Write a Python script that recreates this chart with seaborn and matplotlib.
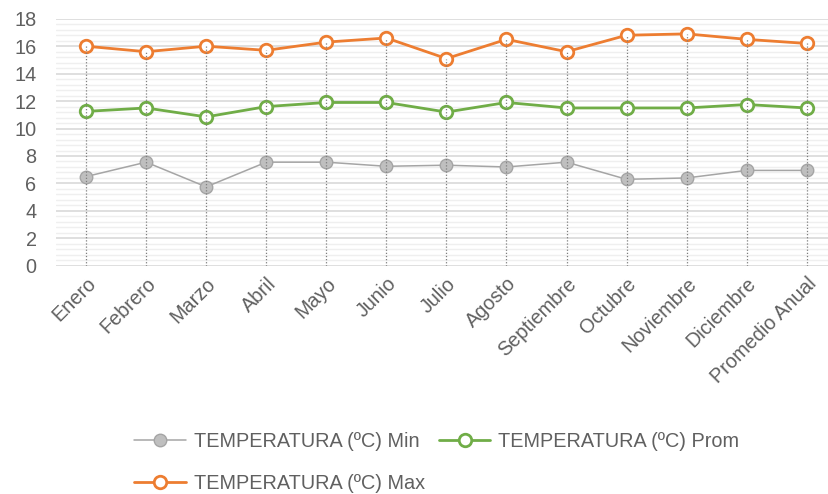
import matplotlib
matplotlib.use("Agg")
import matplotlib.pyplot as plt
import seaborn as sns
import pandas as pd
import numpy as np
from matplotlib.ticker import MultipleLocator

meses = ["Enero", "Febrero", "Marzo", "Abril", "Mayo", "Junio", "Julio", "Agosto",
         "Septiembre", "Octubre", "Noviembre", "Diciembre", "Promedio Anual"]
t_min = [6.5, 7.55, 5.75, 7.55, 7.55, 7.25, 7.33, 7.2, 7.55, 6.3, 6.4, 6.95, 6.95]
t_prom = [11.25, 11.5, 10.85, 11.6, 11.9, 11.9, 11.2, 11.9, 11.5, 11.5, 11.5, 11.75, 11.5]
t_max = [16.0, 15.6, 16.0, 15.7, 16.3, 16.6, 15.1, 16.5, 15.6, 16.8, 16.9, 16.5, 16.2]

sns.set_theme(style="white")
plt.rcParams['font.family'] = ['Liberation Sans', 'DejaVu Sans']

df = pd.DataFrame({"mes": meses, "x": np.arange(len(meses)),
                   "Min": t_min, "Prom": t_prom, "Max": t_max})

fig = plt.figure(figsize=(8.29, 4.94), dpi=100)
ax = fig.add_axes([0.0676, 0.462, 0.9324, 0.5])

text_color = "#606060"
fs = 14.3

ax.yaxis.set_major_locator(MultipleLocator(2))
ax.yaxis.set_minor_locator(MultipleLocator(0.4))
ax.grid(which="major", axis="y", color="#d9d9d9", linewidth=1.2, zorder=0)
ax.grid(which="minor", axis="y", color="#efefef", linewidth=1.0, zorder=0)
ax.set_axisbelow(True)

sns.lineplot(data=df, x="x", y="Min", ax=ax, color="#a5a5a5", linewidth=1.1,
             marker="o", markersize=9, markerfacecolor="#bfbfbf", markeredgecolor="#a5a5a5",
             markeredgewidth=1, label="TEMPERATURA (ºC) Min", zorder=3)
sns.lineplot(data=df, x="x", y="Prom", ax=ax, color="#70ad47", linewidth=2.0,
             marker="o", markersize=9, markerfacecolor="white", markeredgecolor="#70ad47",
             markeredgewidth=2.0, label="TEMPERATURA (ºC) Prom", zorder=3)
sns.lineplot(data=df, x="x", y="Max", ax=ax, color="#ed7d31", linewidth=2.0,
             marker="o", markersize=9, markerfacecolor="white", markeredgecolor="#ed7d31",
             markeredgewidth=2.0, label="TEMPERATURA (ºC) Max", zorder=3)

# drop lines from highest series down to the axis
ax.vlines(df["x"], 0, df["Max"], colors="#7f7f7f", linestyles=(0, (1, 1.5)), linewidth=0.9, zorder=4)

ax.set_xlim(-0.5, 12.37)
ax.set_ylim(0, 18)
ax.set_xticks(df["x"])
ax.set_xticklabels(meses, rotation=45, ha="right", rotation_mode="anchor",
                   fontsize=fs, color=text_color)
ax.tick_params(axis="y", labelsize=fs, labelcolor=text_color, length=0, pad=14)
ax.tick_params(axis="x", length=0, pad=6)
ax.set_xlabel("")
ax.set_ylabel("")
for s in ax.spines.values():
    s.set_visible(False)

handles, labels = ax.get_legend_handles_labels()
order = [0, 2, 1]
leg = ax.legend([handles[i] for i in order], [labels[i] for i in order],
                loc="upper left", bbox_to_anchor=(0.078, -0.60), ncol=2, frameon=False,
                fontsize=fs, handlelength=2.6, columnspacing=0.7, labelspacing=1.15,
                handletextpad=0.4)
for t in leg.get_texts():
    t.set_color(text_color)

fig.savefig("out.png", dpi=100)
